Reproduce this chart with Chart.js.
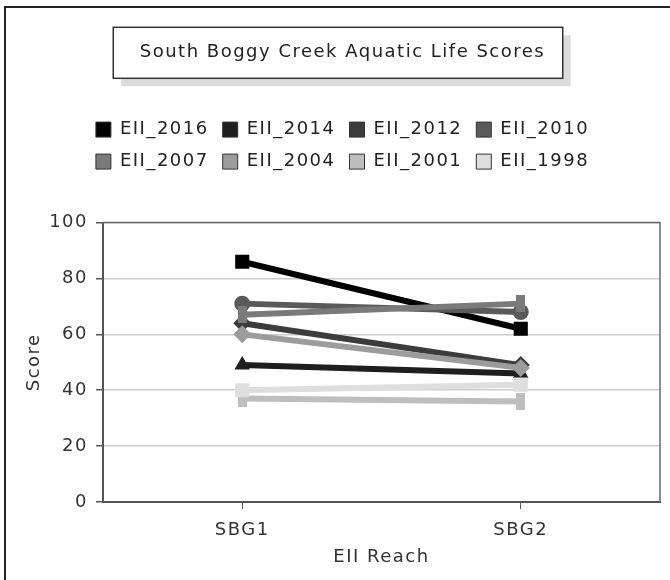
<!DOCTYPE html>
<html><head><meta charset="utf-8">
<script src="https://cdn.jsdelivr.net/npm/chart.js@4/dist/chart.umd.min.js"></script>
<style>
html,body{margin:0;padding:0;background:#fff;}
#wrap{position:relative;width:670px;height:580px;overflow:hidden;}
#frame{position:absolute;left:4px;top:6px;width:700px;height:700px;border-left:2px solid #222;border-top:2px solid #222;pointer-events:none;}
canvas{position:absolute;left:0;top:0;}
</style></head><body>
<div id="wrap"><canvas id="c" width="670" height="580"></canvas><div id="frame"></div></div>
<script>
// ---- data ----
const categories = ['SBG1', 'SBG2'];
const seriesNames = ['EII_2016', 'EII_2014', 'EII_2012', 'EII_2010', 'EII_2007', 'EII_2004', 'EII_2001', 'EII_1998'];
const eii2016 = [86, 62];
const eii2014 = [49, 46];
const eii2012 = [64, 49];
const eii2010 = [71, 68];
const eii2007 = [67, 71];
const eii2004 = [60, 48];
const eii2001 = [37, 36];
const eii1998 = [40, 42];
const yTicks = [0, 20, 40, 60, 80, 100];
const chartTitle = 'South Boggy Creek Aquatic Life Scores';
const xTitle = 'EII Reach';
const yTitle = 'Score';

// ---- styles ----
const seriesValues = [eii2016, eii2014, eii2012, eii2010, eii2007, eii2004, eii2001, eii1998];
const colors = ['#000000', '#1e1e1e', '#3c3c3c', '#5a5a5a', '#7a7a7a', '#9c9c9c', '#bebebe', '#dedede'];
function vRect(color) {
  const cv = document.createElement('canvas');
  cv.width = 9; cv.height = 17;
  const g = cv.getContext('2d');
  g.fillStyle = color; g.fillRect(0, 0, 9, 17);
  return cv;
}
const shapes = ['rect', 'triangle', 'rectRot', 'circle', vRect(colors[4]), 'rectRot', vRect(colors[6]), 'rect'];
const radii = [10, 9, 9, 8, 9, 9, 9, 10];
const FONT = 'DejaVu Sans';
const LS = '1.5px';
const LEGEND_WRAP = 560;

const spacingPlugin = {
  id: 'spacing',
  beforeUpdate(c) { c.ctx.letterSpacing = LS; },
  beforeLayout(c) {
    c.ctx.letterSpacing = LS;
    const L = c.legend;
    if (L && !L._wrapPatched) {
      const orig = L.update.bind(L);
      L.update = function (mw, mh, m) { return orig(Math.min(mw, LEGEND_WRAP), mh, m); };
      L._wrapPatched = true;
    }
  },
  beforeDraw(c) { c.ctx.letterSpacing = LS; }
};

const spacerPlugin = {
  id: 'spacer',
  beforeInit(chart) {
    Chart.layouts.addBox(chart, {
      position: 'top', weight: -10, fullSize: true, options: {},
      isHorizontal() { return true; },
      update(maxW, maxH) { this.width = maxW; this.height = 42; },
      draw() {}
    });
  }
};

const titleBoxPlugin = {
  id: 'titleBox',
  beforeDraw(chart) {
    const tb = chart.titleBlock;
    const ctx = chart.ctx;
    const f = tb.options.font;
    ctx.save();
    ctx.letterSpacing = LS;
    ctx.font = f.size + 'px ' + FONT;
    const w = ctx.measureText(chartTitle).width + 44;
    const cx = 338;
    const cy = tb.top + tb.options.padding.top + f.size * 1.2 / 2;
    const h = 51;
    ctx.fillStyle = '#dcdcdc';
    ctx.fillRect(cx - w / 2 + 8, cy - h / 2 + 8, w, h);
    ctx.fillStyle = '#fff';
    ctx.fillRect(cx - w / 2, cy - h / 2, w, h);
    ctx.strokeStyle = '#333';
    ctx.lineWidth = 1.5;
    ctx.strokeRect(cx - w / 2, cy - h / 2, w, h);
    ctx.restore();
  }
};

const framePlugin = {
  id: 'frame',
  beforeDatasetsDraw(chart) {
    const a = chart.chartArea, ctx = chart.ctx;
    ctx.save();
    ctx.strokeStyle = '#666';
    ctx.lineWidth = 1.5;
    ctx.beginPath();
    ctx.moveTo(a.left, a.top);
    ctx.lineTo(a.right, a.top);
    ctx.lineTo(a.right, a.bottom);
    ctx.stroke();
    ctx.restore();
  }
};

Chart.defaults.font.family = FONT;
Chart.defaults.color = '#333';

new Chart(document.getElementById('c'), {
  type: 'line',
  data: {
    labels: categories,
    datasets: seriesNames.map((n, i) => ({
      label: n,
      data: seriesValues[i],
      borderColor: colors[i],
      backgroundColor: colors[i],
      borderWidth: 6,
      pointStyle: shapes[i],
      pointRadius: radii[i],
      pointBorderWidth: 0,
      fill: false,
      tension: 0
    })).reverse()
  },
  options: {
    responsive: false,
    animation: false,
    devicePixelRatio: 1,
    layout: { padding: { left: 20, right: 5, top: 0, bottom: 0 } },
    plugins: {
      title: {
        display: true, text: chartTitle, color: '#222',
        font: { size: 18, weight: 'normal', family: FONT },
        padding: { top: 42, bottom: 43 }
      },
      legend: {
        display: true, position: 'top',
        labels: {
          font: { size: 18, family: FONT }, color: '#222',
          boxWidth: 15, boxHeight: 15, padding: 14,
          generateLabels(chart) {
            return seriesNames.map((n, i) => ({
              text: n, fillStyle: colors[i], strokeStyle: '#333', lineWidth: 1,
              hidden: false, datasetIndex: seriesNames.length - 1 - i, fontColor: '#222'
            }));
          }
        }
      },
      tooltip: { enabled: false }
    },
    scales: {
      x: {
        type: 'category', offset: true,
        grid: { display: true, drawOnChartArea: false, drawTicks: true, tickLength: 7, tickColor: '#555', offset: false },
        border: { display: true, color: '#555', width: 2 },
        ticks: { font: { size: 18, family: FONT }, color: '#333', padding: 11 },
        title: { display: true, text: xTitle, font: { size: 18, family: FONT }, color: '#333', padding: { top: 4, bottom: 12 } },
        afterFit(s) { s.height = 78; s.paddingLeft = 0; s.paddingRight = 0; }
      },
      y: {
        min: 0, max: 100,
        afterBuildTicks(s) { s.ticks = yTicks.map(v => ({ value: v })); },
        grid: { color: '#cccccc', lineWidth: 1.5, drawTicks: true, tickLength: 7, tickColor: '#555' },
        border: { display: true, color: '#555', width: 2 },
        ticks: { font: { size: 18, family: FONT }, color: '#333', padding: 8 },
        title: { display: true, text: yTitle, font: { size: 18, family: FONT }, color: '#333', padding: { top: 4, bottom: 4 } },
        afterFit(s) { s.width = 83; }
      }
    }
  },
  plugins: [spacingPlugin, spacerPlugin, titleBoxPlugin, framePlugin]
});
</script>
</body></html>
